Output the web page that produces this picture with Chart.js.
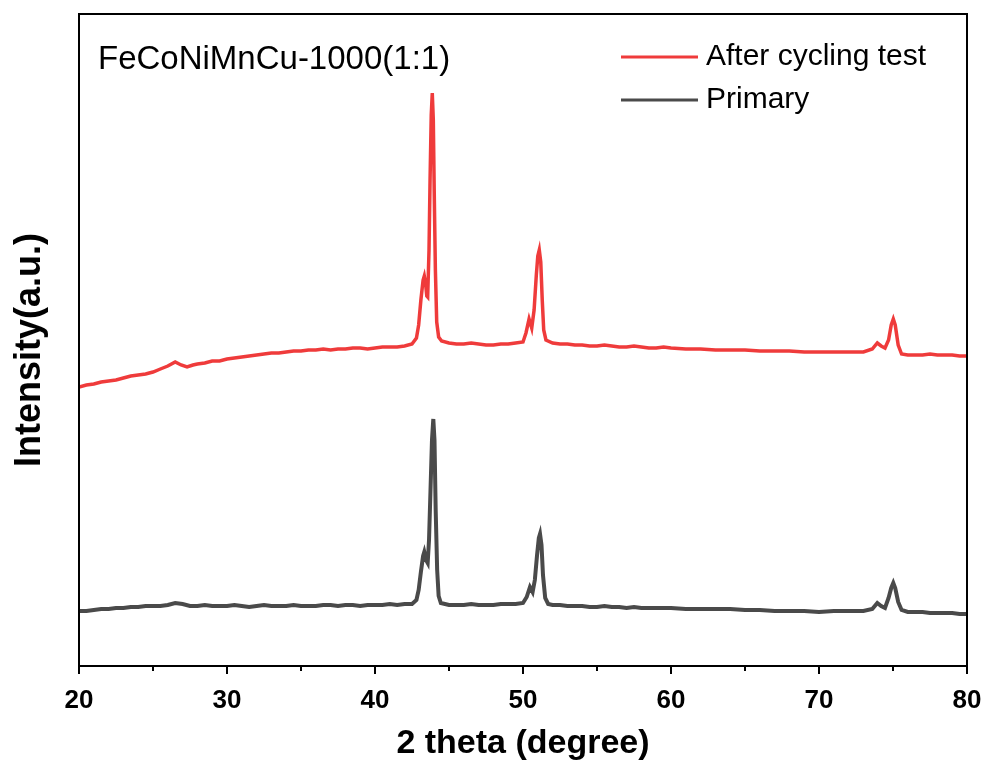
<!DOCTYPE html>
<html>
<head>
<meta charset="utf-8">
<script src="https://cdn.jsdelivr.net/npm/chart.js@4/dist/chart.umd.min.js"></script>
<style>
  html, body { margin: 0; padding: 0; background: #fff; }
  #wrap { width: 985px; height: 762px; }
</style>
</head>
<body>
<div id="wrap"><canvas id="xrd" width="985" height="762"></canvas></div>
<script>
// XRD patterns of FeCoNiMnCu-1000(1:1), intensity in arbitrary units
const chartTitle = 'FeCoNiMnCu-1000(1:1)';
const yTitle = 'Intensity(a.u.)';
const seriesNames = ['After cycling test', 'Primary'];
const xTicks = [20, 30, 40, 50, 60, 70, 80];
const xMinorTicks = [25, 35, 45, 55, 65, 75];

const cycledTheta = [
  20, 20.5, 21, 21.5, 22, 22.5, 23, 23.5, 24, 24.5, 25, 25.5, 26, 26.5, 26.9, 27.3, 27.7,
  28, 28.5, 29, 29.5, 30, 30.5, 31, 31.5, 32, 32.5, 33, 33.5, 34, 34.5, 35, 35.5, 36, 36.5,
  37, 37.5, 38, 38.5, 39, 39.5, 40, 40.5, 41, 41.5, 42, 42.5,
  42.8, 42.95, 43.1, 43.25, 43.33, 43.42, 43.5, 43.56, 43.65, 43.72, 43.8, 43.87, 43.94,
  44.0, 44.08, 44.17, 44.3, 44.5,
  45, 45.5, 46, 46.5, 47, 47.5, 48, 48.5, 49, 49.5, 50.0,
  50.2, 50.41, 50.59, 50.75, 50.9, 51.0, 51.1, 51.2, 51.3, 51.4, 51.55,
  52, 52.5, 53, 53.5, 54, 54.5, 55, 55.5, 56, 56.5, 57, 57.5, 58, 58.5, 59, 59.5, 60,
  61, 62, 63, 64, 65, 66, 67, 68, 69, 70, 71, 72, 73,
  73.6, 73.94, 74.2, 74.46, 74.7, 74.88, 75.02, 75.15, 75.35, 75.58,
  76, 76.5, 77, 77.5, 78, 78.5, 79, 79.5, 80
];
const cycledIntensity = [
  279, 281, 282, 284, 285, 286, 288, 290, 291, 292, 294, 297, 300, 304, 301, 299, 301,
  302, 303, 305, 305, 307, 308, 309, 310, 311, 312, 313, 313, 314, 315, 315, 316, 316, 317,
  316, 317, 317, 318, 318, 317, 318, 319, 319, 319, 320, 322,
  328, 341, 366, 386, 390, 382, 370, 369, 416, 486, 551, 573, 546,
  476, 396, 344, 329, 325,
  323, 322, 322, 323, 322, 321, 321, 322, 322, 323, 324,
  333, 347, 338, 356, 391, 410, 416, 404, 366, 336, 326,
  323, 322, 322, 321, 321, 320, 320, 321, 320, 319, 319, 320, 319, 318, 318, 319, 318,
  317, 317, 316, 316, 316, 315, 315, 315, 314, 314, 314, 314, 314,
  317, 323, 320, 318, 326, 341, 347, 341, 321, 312,
  311, 311, 311, 312, 311, 311, 311, 310, 310
];

const primaryTheta = [
  20, 20.5, 21, 21.5, 22, 22.5, 23, 23.5, 24, 24.5, 25, 25.5, 26, 26.5, 27, 27.5,
  28, 28.5, 29, 29.5, 30, 30.5, 31, 31.5, 32, 32.5, 33, 33.5, 34, 34.5, 35, 35.5, 36, 36.5,
  37, 37.5, 38, 38.5, 39, 39.5, 40, 40.5, 41, 41.5, 42, 42.5,
  42.8, 42.95, 43.1, 43.25, 43.33, 43.45, 43.56, 43.65, 43.75, 43.85, 43.94,
  44.02, 44.1, 44.2, 44.3, 44.45,
  45, 45.5, 46, 46.5, 47, 47.5, 48, 48.5, 49, 49.5, 50.0,
  50.25, 50.47, 50.65, 50.8, 50.95, 51.07, 51.15, 51.25, 51.35, 51.5, 51.7,
  52, 52.5, 53, 53.5, 54, 54.5, 55, 55.5, 56, 56.5, 57, 57.5, 58, 58.5, 59, 59.5, 60,
  61, 62, 63, 64, 65, 66, 67, 68, 69, 70, 71, 72, 73,
  73.6, 73.94, 74.2, 74.46, 74.7, 74.88, 75.02, 75.15, 75.35, 75.58,
  76, 76.5, 77, 77.5, 78, 78.5, 79, 79.5, 80
];
const primaryIntensity = [
  55, 55, 56, 57, 57, 58, 58, 59, 59, 60, 60, 60, 61, 63, 62, 60,
  60, 61, 60, 60, 60, 61, 60, 59, 60, 61, 60, 60, 60, 61, 60, 60, 60, 61,
  61, 60, 61, 61, 60, 61, 61, 61, 62, 61, 62, 62,
  66, 76, 94, 110, 114, 106, 103, 126, 176, 226, 247,
  226, 156, 96, 70, 63,
  61, 61, 61, 62, 61, 61, 61, 62, 62, 62, 63,
  69, 79, 74, 86, 111, 128, 132, 121, 91, 68, 62,
  61, 61, 60, 60, 60, 59, 59, 60, 59, 59, 58, 59, 58, 58, 58, 58, 58,
  57, 57, 57, 57, 56, 56, 55, 55, 55, 54, 55, 55, 55,
  57, 63, 60, 58, 68, 78, 83, 78, 64, 56,
  54, 54, 54, 53, 53, 53, 53, 52, 52
];

const seriesColors = ['#EF3B3B', '#4A4A4A'];
const FONT = '"Liberation Sans", Arial, sans-serif';

function toPoints(xs, ys) {
  return xs.map((x, i) => ({ x: x, y: ys[i] }));
}

// black box round the plot area
const framePlugin = {
  id: 'frame',
  afterDraw(chart) {
    const { ctx, chartArea: a } = chart;
    ctx.save();
    ctx.strokeStyle = '#000';
    ctx.lineWidth = 2;
    ctx.strokeRect(a.left, a.top, a.right - a.left, a.bottom - a.top);
    ctx.restore();
  }
};

// shorter ticks half way between the labelled ones
const minorTickPlugin = {
  id: 'minorTicks',
  afterDraw(chart) {
    const { ctx, chartArea: a } = chart;
    const xs = chart.scales.x;
    ctx.save();
    ctx.strokeStyle = '#000';
    ctx.lineWidth = 2;
    xMinorTicks.forEach(v => {
      const px = xs.getPixelForValue(v);
      ctx.beginPath();
      ctx.moveTo(px, a.bottom);
      ctx.lineTo(px, a.bottom + 5);
      ctx.stroke();
    });
    ctx.restore();
  }
};

// sample name, series key and the rotated intensity title
const labelPlugin = {
  id: 'labels',
  afterDraw(chart) {
    const { ctx, chartArea: a } = chart;
    ctx.save();
    ctx.fillStyle = '#000';
    ctx.textBaseline = 'middle';
    ctx.textAlign = 'left';
    ctx.font = '33px ' + FONT;
    ctx.fillText(chartTitle, a.left + 19, 60);

    ctx.font = '30px ' + FONT;
    chart.data.datasets.forEach((ds, i) => {
      const y = 57 + i * 43;
      ctx.strokeStyle = ds.borderColor;
      ctx.lineWidth = 3;
      ctx.beginPath();
      ctx.moveTo(621, y);
      ctx.lineTo(698, y);
      ctx.stroke();
      ctx.fillText(ds.label, 706, y);
    });

    ctx.translate(30, 350);
    ctx.rotate(-Math.PI / 2);
    ctx.textAlign = 'center';
    ctx.font = 'bold 36px ' + FONT;
    ctx.fillText(yTitle, 0, 0);
    ctx.restore();
  }
};

new Chart(document.getElementById('xrd'), {
  type: 'line',
  data: {
    datasets: [
      {
        label: seriesNames[0],
        data: toPoints(cycledTheta, cycledIntensity),
        borderColor: seriesColors[0],
        borderWidth: 3.5,
        pointRadius: 0,
        tension: 0
      },
      {
        label: seriesNames[1],
        data: toPoints(primaryTheta, primaryIntensity),
        borderColor: seriesColors[1],
        borderWidth: 4,
        pointRadius: 0,
        tension: 0
      }
    ]
  },
  options: {
    responsive: false,
    animation: false,
    layout: { padding: { top: 14, right: 18, left: 0, bottom: 0 } },
    plugins: {
      legend: { display: false },
      tooltip: { enabled: false }
    },
    scales: {
      x: {
        type: 'linear',
        min: 20,
        max: 80,
        afterFit(scale) {
          scale.height = 96;
          scale.paddingLeft = 0;
          scale.paddingRight = 0;
        },
        afterBuildTicks(scale) { scale.ticks = xTicks.map(v => ({ value: v })); },
        grid: {
          drawOnChartArea: false,
          drawTicks: true,
          tickLength: 8,
          color: '#000',
          lineWidth: 2
        },
        border: { display: true, color: '#000', width: 2 },
        ticks: {
          color: '#000',
          padding: 11,
          font: { family: FONT, size: 26, weight: 'bold' }
        },
        title: {
          display: true,
          text: '2 theta (degree)',
          color: '#000',
          font: { family: FONT, size: 34, weight: 'bold' },
          padding: { top: 0, bottom: -2 }
        }
      },
      y: {
        min: 0,
        max: 652,
        afterFit(scale) { scale.width = 79; },
        grid: { display: false },
        border: { display: true, color: '#000', width: 2 },
        ticks: { display: false },
        title: { display: false }
      }
    }
  },
  plugins: [framePlugin, minorTickPlugin, labelPlugin]
});
</script>
</body>
</html>
